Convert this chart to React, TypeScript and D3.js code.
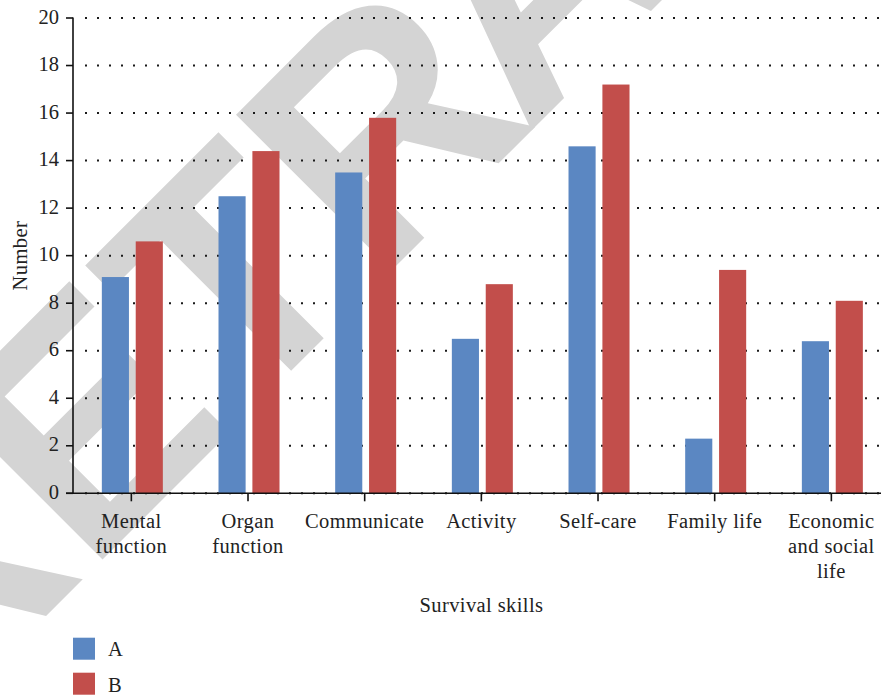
import React from "react";
import * as d3 from "d3";

// Survival skill categories (tick labels split into lines)
const categories = [
  "Mental function",
  "Organ function",
  "Communicate",
  "Activity",
  "Self-care",
  "Family life",
  "Economic and social life",
];
const categoryLines = [
  ["Mental", "function"],
  ["Organ", "function"],
  ["Communicate"],
  ["Activity"],
  ["Self-care"],
  ["Family life"],
  ["Economic", "and social", "life"],
];

const seriesNames = ["A", "B"];
const seriesA = [9.1, 12.5, 13.5, 6.5, 14.6, 2.3, 6.4];
const seriesB = [10.6, 14.4, 15.8, 8.8, 17.2, 9.4, 8.1];
const yTicks = [0, 2, 4, 6, 8, 10, 12, 14, 16, 18, 20];

const colors: Record<string, string> = { A: "#5b87c2", B: "#c24e4b" };

const W = 881;
const H = 697;
const left = 73;
const top = 18;
const bottom = 493.3;
const step = 116.67;

const serif = "'Liberation Serif', 'Times New Roman', serif";
const labelSpacing = 0.4;

export default function App() {
  const x = d3
    .scaleBand<string>()
    .domain(categories)
    .range([left, left + step * categories.length])
    .paddingInner(0)
    .paddingOuter(0);
  const sub = d3
    .scaleBand<string>()
    .domain(seriesNames)
    .range([-29.5, 31.5])
    .paddingInner(0.2)
    .paddingOuter(0);
  const y = d3.scaleLinear().domain([0, 20]).range([bottom, top]);

  const values: Record<string, number[]> = { A: seriesA, B: seriesB };
  const bw = x.bandwidth();

  return (
    <svg
      width={W}
      height={H}
      viewBox={`0 0 ${W} ${H}`}
      style={{ position: "absolute", left: 0, top: 0, background: "#fff" }}
    >
      <rect x={0} y={0} width={W} height={H} fill="#fff" />

      {/* background stamp */}
      <text
        transform="translate(-76,738) rotate(-45)"
        fontFamily="'Liberation Sans', Arial, sans-serif"
        fontWeight="bold"
        fontSize={320}
        fill="#d4d4d4"
      >
        RETR<tspan dx={-20}>ACTED</tspan>
      </text>

      {/* dotted gridlines */}
      {yTicks.map((t) => (
        <line
          key={`g${t}`}
          x1={85}
          x2={W}
          y1={y(t)}
          y2={y(t)}
          stroke="#1a1a1a"
          strokeWidth={2}
          strokeDasharray="2 10"
        />
      ))}

      {/* bars */}
      {categories.map((c, i) => {
        const cx = (x(c) as number) + bw / 2;
        return seriesNames.map((s) => {
          const v = values[s][i];
          return (
            <rect
              key={`${c}-${s}`}
              x={cx + (sub(s) as number)}
              y={y(v)}
              width={sub.bandwidth()}
              height={y(0) - y(v)}
              fill={colors[s]}
            />
          );
        });
      })}

      {/* y axis */}
      <line x1={left} x2={left} y1={top - 0.5} y2={bottom} stroke="#111" strokeWidth={1.6} />
      {yTicks.map((t) => (
        <g key={`yt${t}`}>
          <line x1={66} x2={left} y1={y(t)} y2={y(t)} stroke="#111" strokeWidth={1.6} />
          <text
            x={59}
            y={y(t) + 5.5}
            textAnchor="end"
            fontFamily={serif}
            fontSize={20.5}
            fill="#222"
          >
            {t}
          </text>
        </g>
      ))}

      {/* x axis */}
      <line x1={66} x2={W} y1={bottom} y2={bottom} stroke="#111" strokeWidth={1.6} />
      {categories.map((c, i) => {
        const cx = (x(c) as number) + bw / 2;
        return (
          <g key={`xt${c}`}>
            <line x1={cx} x2={cx} y1={bottom} y2={bottom + 8} stroke="#111" strokeWidth={1.6} />
            <text
              textAnchor="middle"
              fontFamily={serif}
              fontSize={20.5}
              letterSpacing={labelSpacing}
              fill="#222"
            >
              {categoryLines[i].map((ln, j) => (
                <tspan key={j} x={cx} y={528.3 + j * 25}>
                  {ln}
                </tspan>
              ))}
            </text>
          </g>
        );
      })}

      {/* axis titles */}
      <text
        x={481.5}
        y={612}
        textAnchor="middle"
        fontFamily={serif}
        fontSize={20.5}
        letterSpacing={labelSpacing}
        fill="#222"
      >
        Survival skills
      </text>
      <text
        transform={`translate(27,${(top + bottom) / 2}) rotate(-90)`}
        textAnchor="middle"
        fontFamily={serif}
        fontSize={20.5}
        letterSpacing={labelSpacing}
        fill="#222"
      >
        Number
      </text>

      {/* legend */}
      {seriesNames.map((s, i) => (
        <g key={`lg${s}`}>
          <rect x={73} y={637.7 + i * 35} width={22} height={22} fill={colors[s]} />
          <text x={108} y={655.7 + i * 36.5} fontFamily={serif} fontSize={20.5} fill="#222">
            {s}
          </text>
        </g>
      ))}
    </svg>
  );
}
